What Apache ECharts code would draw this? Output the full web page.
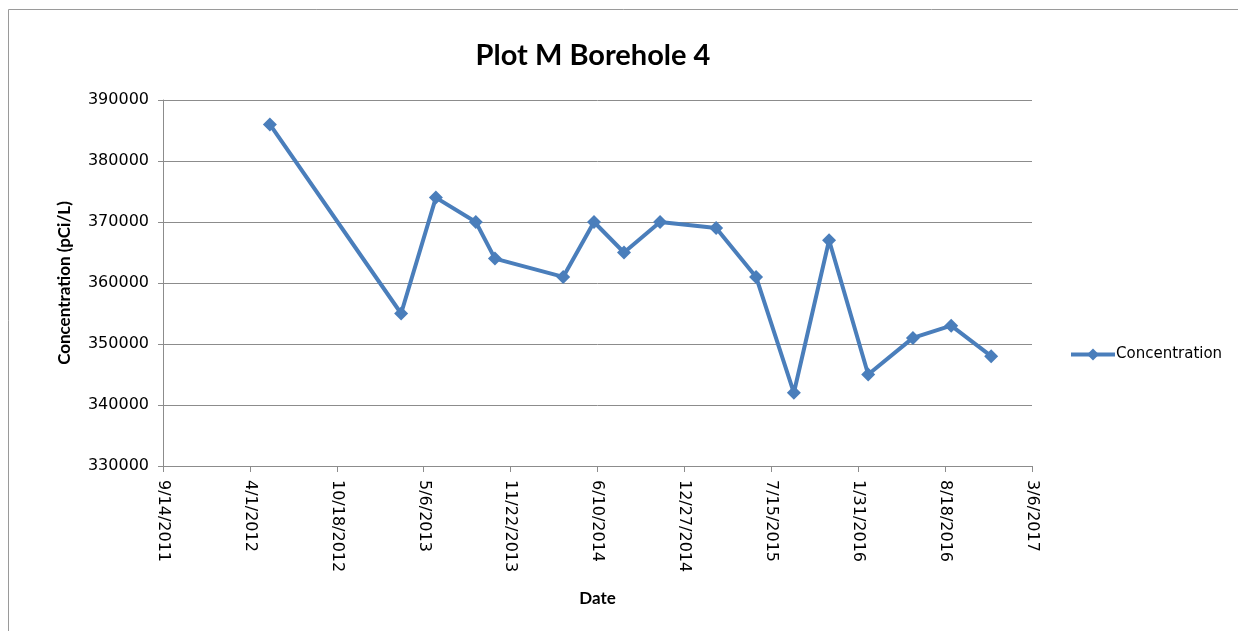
<!DOCTYPE html>
<html>
<head>
<meta charset="utf-8">
<script src="https://cdn.jsdelivr.net/npm/echarts@6/dist/echarts.min.js"></script>
<style>
html,body{margin:0;padding:0;background:#fff;}
#chart{width:1238px;height:631px;}
</style>
</head>
<body>
<div id="chart"></div>
<script>
// Sample dates and concentrations (pCi/L)
const sampleDates = ['2012-05-17','2013-03-15','2013-06-03','2013-09-03','2013-10-17','2014-03-23','2014-06-02','2014-08-10','2014-11-01','2015-03-10','2015-06-10','2015-09-05','2015-11-25','2016-02-23','2016-06-05','2016-09-01','2016-12-02'];
const concentration = [386000,355000,374000,370000,364000,361000,370000,365000,370000,369000,361000,342000,367000,345000,351000,353000,348000];
// Axis settings (Excel serial date numbers): 9/14/2011 .. 3/6/2017 every 200 days
const xMinSerial = 40800, xMaxSerial = 42800, xStep = 200;
const yMin = 330000, yMax = 390000, yStep = 10000;

const EPOCH = Date.UTC(1899, 11, 30);
function toSerial(s){ const p = s.split('-'); return Math.round((Date.UTC(+p[0], +p[1]-1, +p[2]) - EPOCH)/86400000); }
function serialLabel(v){ const d = new Date(EPOCH + v*86400000); return (d.getUTCMonth()+1)+'/'+d.getUTCDate()+'/'+d.getUTCFullYear(); }

const seriesData = sampleDates.map((d,i)=>[toSerial(d), concentration[i]]);
const blue = '#4a7ebb';
const font = 'DejaVu Sans';

const chart = echarts.init(document.getElementById('chart'), null, {renderer:'canvas'});
chart.setOption({
  animation:false,
  backgroundColor:'#fff',
  title:{
    text:'Plot M Borehole 4', left:588, top:36, textAlign:'center',
    textStyle:{fontFamily:'Lato', fontWeight:'bold', fontSize:29, color:'#000'}
  },
  legend:{
    left:1064, top:342, itemWidth:44, itemHeight:15, itemGap:0,
    data:[{name:'Concentration', lineStyle:{width:4, color:blue}, itemStyle:{color:blue}}],
    textStyle:{fontFamily:font, fontSize:15, color:'#000', padding:[0,0,0,-4]}
  },
  grid:{left:163, right:206, top:100, bottom:165},
  xAxis:{
    type:'value', min:xMinSerial, max:xMaxSerial, interval:xStep,
    name:'Date', nameLocation:'middle', nameGap:124,
    nameTextStyle:{fontFamily:'Lato', fontWeight:'bold', fontSize:17, color:'#000'},
    axisLine:{show:true, lineStyle:{color:'#8c8c8c', width:1}},
    axisTick:{show:true, length:6, lineStyle:{color:'#8c8c8c'}},
    splitLine:{show:false},
    axisLabel:{rotate:-90, fontFamily:font, fontSize:16, color:'#000', margin:14, formatter:serialLabel}
  },
  yAxis:{
    type:'value', min:yMin, max:yMax, interval:yStep,
    name:'Concentration (pCi/L)', nameLocation:'middle', nameGap:90, nameRotate:90,
    nameTextStyle:{fontFamily:'Lato', fontWeight:'bold', fontSize:17, color:'#000'},
    axisLine:{show:true, lineStyle:{color:'#8c8c8c', width:1}},
    axisTick:{show:true, length:5, lineStyle:{color:'#8c8c8c'}},
    splitLine:{show:true, lineStyle:{color:'#8c8c8c', width:1}},
    axisLabel:{fontFamily:font, fontSize:16, color:'#000', margin:14, formatter:v=>String(v)}
  },
  series:[{
    name:'Concentration', type:'line', data:seriesData,
    symbol:'diamond', symbolSize:14, showAllSymbol:true,
    lineStyle:{color:blue, width:4},
    itemStyle:{color:blue}
  }],
  graphic:[{
    type:'rect', shape:{x:8.5, y:9.5, width:1240, height:640},
    style:{fill:'none', stroke:'#9a9a9a', lineWidth:1}, silent:true
  }]
});
</script>
</body>
</html>
